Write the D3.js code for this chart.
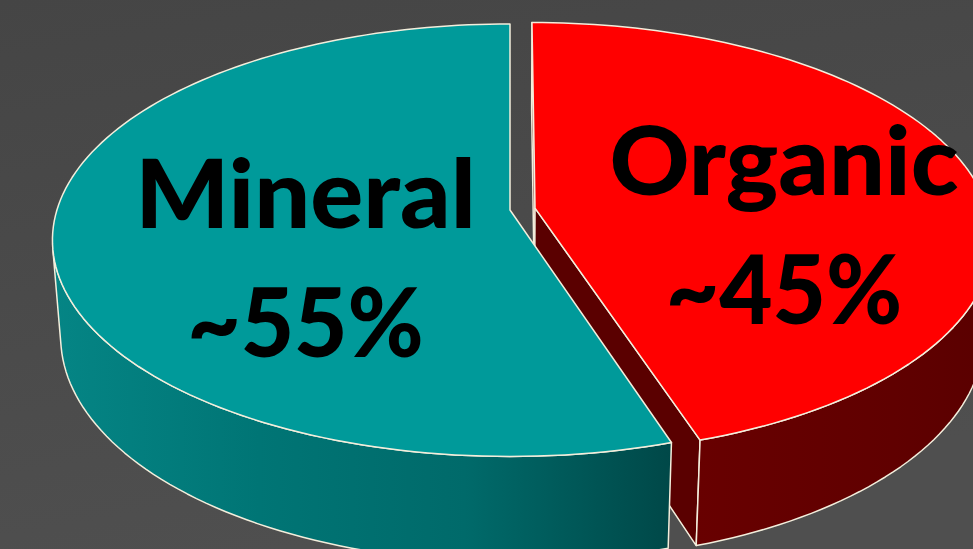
<!DOCTYPE html>
<html>
<head>
<meta charset="utf-8">
<script src="https://cdn.jsdelivr.net/npm/d3@7/dist/d3.min.js"></script>
<style>
  html, body { margin: 0; padding: 0; background: #4a4a4a; }
  svg { display: block; }
</style>
</head>
<body>
<svg id="chart" width="973" height="549"></svg>
<script>
// Share of soil composition
const categories = ["Mineral", "Organic"];
const values = [55, 45];
const valueLabels = ["~55%", "~45%"];
const exploded = [false, true];

const topColors = ["#009a9a", "#ff0000"];
const sideColors = [["#058585", "#007575", "#006a6a", "#004848"], ["#680000", "#640000", "#600000", "#5a0000"]];
const cutColors = ["#006060", "#5a0000"];
const edgeColor = "#f3eedc";

const W = 973, H = 549;
const svg = d3.select("#chart");

// Perspective camera looking down on a unit-radius cylinder
const cam = {
  cx: 510, cy: 210,          // screen position of the pie's axis on the top face
  F: 2868,                   // focal length in pixels
  D: 6.33,                   // camera distance, in pie radii
  phi: Math.asin(0.468),     // elevation angle
  h: 0.244,                  // thickness of the pie, in radii
  explode: 0.056             // radial offset of the pulled-out slice
};
const cosP = Math.cos(cam.phi), sinP = Math.sin(cam.phi);
const camPos = [0, -cam.D * cosP, cam.D * sinP];

function project(X, Y, Z) {
  const depth = cam.D + Y * cosP - Z * sinP;
  const up = Y * sinP + Z * cosP;
  return [cam.cx + cam.F * X / depth, cam.cy - cam.F * up / depth];
}

const total = d3.sum(values);
// Organic ends at 12 o'clock, Mineral wraps around the left side
const pie = d3.pie().sort(null)
  .startAngle(2 * Math.PI * values[1] / total)
  .endAngle(2 * Math.PI * values[1] / total + 2 * Math.PI);
const arcs = pie(values);

const line = d3.line();
const defs = svg.append("defs");

// Background
const bg = defs.append("linearGradient").attr("id", "bg")
  .attr("x1", 0).attr("y1", 0).attr("x2", 0.3).attr("y2", 1);
bg.append("stop").attr("offset", 0).attr("stop-color", "#454545");
bg.append("stop").attr("offset", 1).attr("stop-color", "#4f4f4f");
svg.append("rect").attr("width", W).attr("height", H).attr("fill", "url(#bg)");

arcs.forEach((a, i) => {
  const g = defs.append("linearGradient").attr("id", "side" + i)
    .attr("x1", 0).attr("y1", 0).attr("x2", 1).attr("y2", 0);
  sideColors[i].forEach((c, k) => g.append("stop")
    .attr("offset", k / (sideColors[i].length - 1)).attr("stop-color", c));
});

const N = 240;
const slices = arcs.map((a, i) => {
  const mid = (a.startAngle + a.endAngle) / 2;
  const off = exploded[i] ? cam.explode : 0;
  const ex = off * Math.sin(mid), ey = off * Math.cos(mid);
  const steps = Math.max(2, Math.round(N * (a.endAngle - a.startAngle) / (2 * Math.PI)));
  const angles = d3.range(steps + 1).map(k => a.startAngle + (a.endAngle - a.startAngle) * k / steps);
  return { a, i, mid, ex, ey, angles };
});

function rim(s, t, Z) { return project(s.ex + Math.sin(t), s.ey + Math.cos(t), Z); }
function facing(nx, ny, px, py) {
  return nx * (camPos[0] - px) + ny * (camPos[1] - py) > 0;
}

const layers = { cuts: [], sides: [], tops: [] };

slices.forEach(s => {
  const { a, ex, ey, angles } = s;
  // radial cut faces
  [[a.startAngle, -Math.cos(a.startAngle), Math.sin(a.startAngle)],
   [a.endAngle, Math.cos(a.endAngle), -Math.sin(a.endAngle)]].forEach(([t, nx, ny]) => {
    const px = ex + 0.5 * Math.sin(t), py = ey + 0.5 * Math.cos(t);
    if (facing(nx, ny, px, py)) {
      layers.cuts.push({ s, pts: [project(ex, ey, 0), rim(s, t, 0), rim(s, t, -cam.h), project(ex, ey, -cam.h)] });
    }
  });
  // outer wall: only the part that faces the camera
  const vis = angles.filter(t => facing(Math.sin(t), Math.cos(t), ex + Math.sin(t), ey + Math.cos(t)));
  if (vis.length > 1) {
    const topArc = vis.map(t => rim(s, t, 0));
    const botArc = vis.map(t => rim(s, t, -cam.h)).reverse();
    layers.sides.push({ s, pts: topArc.concat(botArc) });
  }
  // top face
  layers.tops.push({ s, pts: [project(ex, ey, 0)].concat(angles.map(t => rim(s, t, 0))) });
});

const pathOf = pts => line(pts) + "Z";

svg.append("g").selectAll("path").data(layers.cuts).join("path")
  .attr("d", d => pathOf(d.pts))
  .attr("fill", d => cutColors[d.s.i])
  .attr("stroke", edgeColor).attr("stroke-width", 1.5).attr("stroke-linejoin", "round");

svg.append("g").selectAll("path").data(layers.sides).join("path")
  .attr("d", d => pathOf(d.pts))
  .attr("fill", d => `url(#side${d.s.i})`)
  .attr("stroke", edgeColor).attr("stroke-width", 1.5).attr("stroke-linejoin", "round");

svg.append("g").selectAll("path").data(layers.tops).join("path")
  .attr("d", d => pathOf(d.pts))
  .attr("fill", d => topColors[d.s.i])
  .attr("stroke", edgeColor).attr("stroke-width", 1.5).attr("stroke-linejoin", "round");

// Labels, anchored at a point on each slice's mid-angle
const labelRadius = [0.47, 0.56];
const labelShift = [[8, 32], [2, 35]];   // block-centre nudge in px
const lineGap = 129;
const fontSize = 96;
const widen = [1.03, 0.96];              // name line, value line

const labels = svg.append("g")
  .attr("font-family", "Lato, 'Open Sans', 'Noto Sans', sans-serif")
  .attr("font-weight", 900)
  .attr("font-size", fontSize)
  .attr("fill", "#000")
  .attr("text-anchor", "middle");

slices.forEach(s => {
  const r = labelRadius[s.i];
  const [px, py] = project(s.ex + r * Math.sin(s.mid), s.ey + r * Math.cos(s.mid), 0);
  const cx = px + labelShift[s.i][0];
  const cy = py + labelShift[s.i][1];
  const capH = fontSize * 0.72;
  const base1 = cy - lineGap / 2 + capH / 2;
  [categories[s.i], valueLabels[s.i]].forEach((txt, k) => {
    const t = labels.append("text")
      .attr("x", cx).attr("y", base1 + k * lineGap)
      .text(txt);
    const w = t.node().getComputedTextLength();
    t.attr("textLength", w * widen[k]).attr("lengthAdjust", "spacingAndGlyphs");
  });
});
</script>
</body>
</html>
